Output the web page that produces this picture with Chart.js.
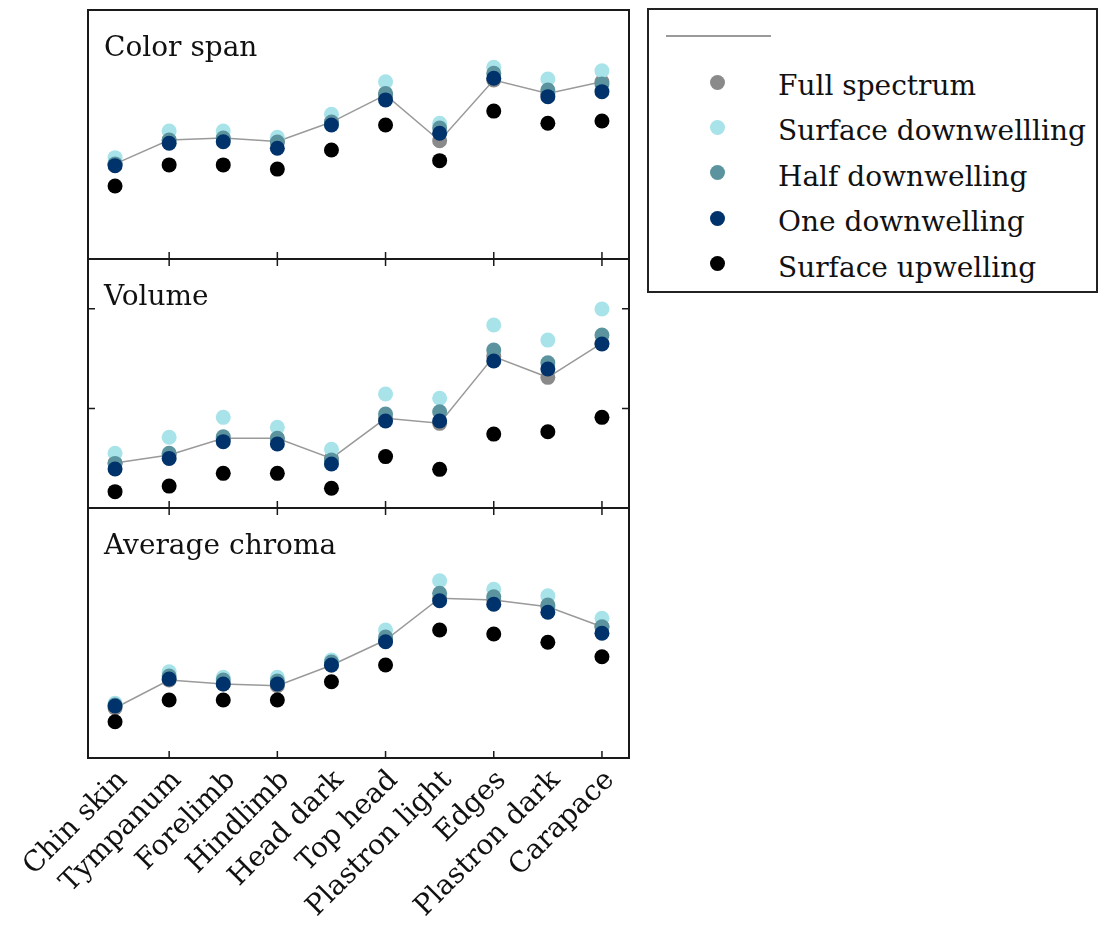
<!DOCTYPE html>
<html>
<head>
<meta charset="utf-8">
<script src="https://cdn.jsdelivr.net/npm/chart.js@4.4.1/dist/chart.umd.min.js"></script>
<style>
  body { margin: 0; background: #fff; }
  #wrap { position: relative; width: 1101px; height: 928px; overflow: hidden; }
  #wrap canvas { position: absolute; left: 0; top: 0; }
  #legend { position: absolute; left: 647px; top: 8px; width: 451px; height: 285px;
            border: 2px solid #222; box-sizing: border-box; font-family: "DejaVu Serif"; }
  #legend .line { position: absolute; left: 17px; top: 25px; width: 105px; height: 2px; background: #9a9a9a; }
  #legend .dot { position: absolute; width: 15px; height: 15px; border-radius: 50%; }
  #legend .txt { position: absolute; left: 129px; font-size: 28px; line-height: 28px; color: #111; white-space: nowrap; }
</style>
</head>
<body>
<div id="wrap">
  <canvas id="spanChart" width="645" height="928"></canvas>
  <canvas id="volumeChart" width="645" height="928"></canvas>
  <canvas id="chromaChart" width="645" height="928"></canvas>
  <div id="legend"></div>
</div>
<script>
// kategori (sumbu x, sama untuk ketiga panel)
const categories = ['Chin skin', 'Tympanum', 'Forelimb', 'Hindlimb', 'Head dark',
                    'Top head', 'Plastron light', 'Edges', 'Plastron dark', 'Carapace'];
const seriesNames = ['Full spectrum', 'Surface downwellling', 'Half downwelling', 'One downwelling', 'Surface upwelling'];
const panelTitles = ['Color span', 'Volume', 'Average chroma'];

// Color span
const spanFull     = [0.382, 0.478, 0.486, 0.472, 0.550, 0.659, 0.475, 0.719, 0.665, 0.712];
const spanSurfDown = [0.407, 0.514, 0.514, 0.489, 0.581, 0.712, 0.545, 0.770, 0.723, 0.756];
const spanHalf     = [0.382, 0.478, 0.486, 0.470, 0.550, 0.665, 0.526, 0.746, 0.679, 0.703];
const spanOne      = [0.375, 0.465, 0.471, 0.445, 0.538, 0.639, 0.505, 0.726, 0.652, 0.672];
const spanSurfUp   = [0.293, 0.378, 0.378, 0.361, 0.438, 0.538, 0.395, 0.594, 0.545, 0.554];

// Volume
const volFull      = [0.226, 0.266, 0.350, 0.350, 0.249, 0.450, 0.425, 0.760, 0.656, 0.828];
const volSurfDown  = [0.275, 0.355, 0.455, 0.405, 0.295, 0.572, 0.551, 0.919, 0.843, 0.999];
const volHalf      = [0.224, 0.275, 0.358, 0.350, 0.241, 0.472, 0.483, 0.793, 0.729, 0.868];
const volOne       = [0.196, 0.249, 0.333, 0.321, 0.221, 0.437, 0.437, 0.738, 0.698, 0.823];
const volSurfUp    = [0.082, 0.110, 0.174, 0.174, 0.099, 0.258, 0.194, 0.371, 0.383, 0.455];
const volTicks     = [0.5, 1.0];

// Average chroma
const chromaFull     = [0.200, 0.312, 0.296, 0.289, 0.371, 0.472, 0.639, 0.632, 0.605, 0.525];
const chromaSurfDown = [0.219, 0.345, 0.323, 0.323, 0.392, 0.512, 0.709, 0.675, 0.649, 0.559];
const chromaHalf     = [0.212, 0.328, 0.312, 0.308, 0.384, 0.484, 0.659, 0.645, 0.612, 0.525];
const chromaOne      = [0.208, 0.316, 0.296, 0.296, 0.372, 0.465, 0.629, 0.615, 0.583, 0.499];
const chromaSurfUp   = [0.145, 0.232, 0.232, 0.232, 0.305, 0.372, 0.512, 0.496, 0.463, 0.405];

const seriesColors = ['#8a8a8a', '#a8e3ea', '#5b949e', '#00326b', '#000000'];
const lineColor = '#9a9a9a';
const FONT = 'DejaVu Serif';

// plugin: bingkai panel, tick ke dalam, judul panel
const panelFrame = {
    id: 'panelFrame',
    afterDatasetsDraw(chart, args, opts) {
        const { ctx, chartArea: a } = chart;
        const x = chart.scales.x, y = chart.scales.y;
        const tl = 7;
        ctx.save();
        ctx.strokeStyle = '#1a1a1a';
        ctx.lineWidth = 2;
        ctx.strokeRect(a.left, a.top, a.right - a.left, a.bottom - a.top);
        ctx.lineWidth = 1.5;
        ctx.beginPath();
        categories.forEach((c, i) => {
            if (i % 2 === 0) return;
            const px = x.getPixelForValue(i);
            if (opts.top) { ctx.moveTo(px, a.top); ctx.lineTo(px, a.top + tl); }
            if (opts.bottom) { ctx.moveTo(px, a.bottom); ctx.lineTo(px, a.bottom - tl); }
        });
        (opts.yTicks || []).forEach(v => {
            const py = y.getPixelForValue(v);
            ctx.moveTo(a.left, py); ctx.lineTo(a.left + tl, py);
            ctx.moveTo(a.right, py); ctx.lineTo(a.right - tl, py);
        });
        ctx.stroke();
        ctx.font = `28px "${FONT}"`;
        ctx.fillStyle = '#111';
        ctx.textBaseline = 'alphabetic';
        ctx.fillText(opts.title, a.left + 16, a.top + 46);
        ctx.restore();
    }
};

function makePanel(id, title, values, yMax, pad, frameOpts, showLabels) {
    const datasets = values.map((data, i) => ({
        label: seriesNames[i],
        data: data,
        showLine: i === 0,
        borderColor: lineColor,
        borderWidth: 1.5,
        pointRadius: 7.5,
        pointBorderWidth: 0,
        pointBackgroundColor: seriesColors[i],
        order: values.length - i
    }));
    const xScale = {
        display: showLabels,
        offset: true,
        grid: { display: false, drawTicks: false },
        border: { display: false },
        ticks: {
            font: { family: FONT, size: 28 },
            color: '#111',
            minRotation: 45,
            maxRotation: 45,
            autoSkip: false,
            padding: 6,
            labelOffset: 8
        }
    };
    if (showLabels) {
        xScale.afterFit = (scale) => { scale.height = 170; };
    }
    return new Chart(document.getElementById(id), {
        type: 'line',
        data: { labels: categories, datasets: datasets },
        options: {
            responsive: false,
            animation: false,
            devicePixelRatio: 1,
            layout: { padding: pad },
            plugins: {
                legend: { display: false },
                tooltip: { enabled: false },
                panelFrame: Object.assign({ title: title }, frameOpts)
            },
            scales: {
                x: xScale,
                y: { display: false, min: 0, max: yMax }
            }
        },
        plugins: [panelFrame]
    });
}

makePanel('spanChart', panelTitles[0],
    [spanFull, spanSurfDown, spanHalf, spanOne, spanSurfUp], 1,
    { left: 88, right: 16, top: 10, bottom: 928 - 259 }, { bottom: true }, false);

makePanel('volumeChart', panelTitles[1],
    [volFull, volSurfDown, volHalf, volOne, volSurfUp], 1.25,
    { left: 88, right: 16, top: 259, bottom: 928 - 508 }, { top: true, bottom: true, yTicks: volTicks }, false);

makePanel('chromaChart', panelTitles[2],
    [chromaFull, chromaSurfDown, chromaHalf, chromaOne, chromaSurfUp], 1,
    { left: 88, right: 16, top: 508, bottom: 0 }, { top: true, bottom: true }, true);

// legenda
const legend = document.getElementById('legend');
const ln = document.createElement('div');
ln.className = 'line';
legend.appendChild(ln);
seriesNames.forEach((name, i) => {
    const cy = 72 + i * 45.4;
    const dot = document.createElement('div');
    dot.className = 'dot';
    dot.style.left = '61px';
    dot.style.top = (cy - 7.5) + 'px';
    dot.style.background = seriesColors[i];
    legend.appendChild(dot);
    const t = document.createElement('div');
    t.className = 'txt';
    t.style.top = (cy - 10) + 'px';
    t.textContent = name;
    legend.appendChild(t);
});
</script>
</body>
</html>
